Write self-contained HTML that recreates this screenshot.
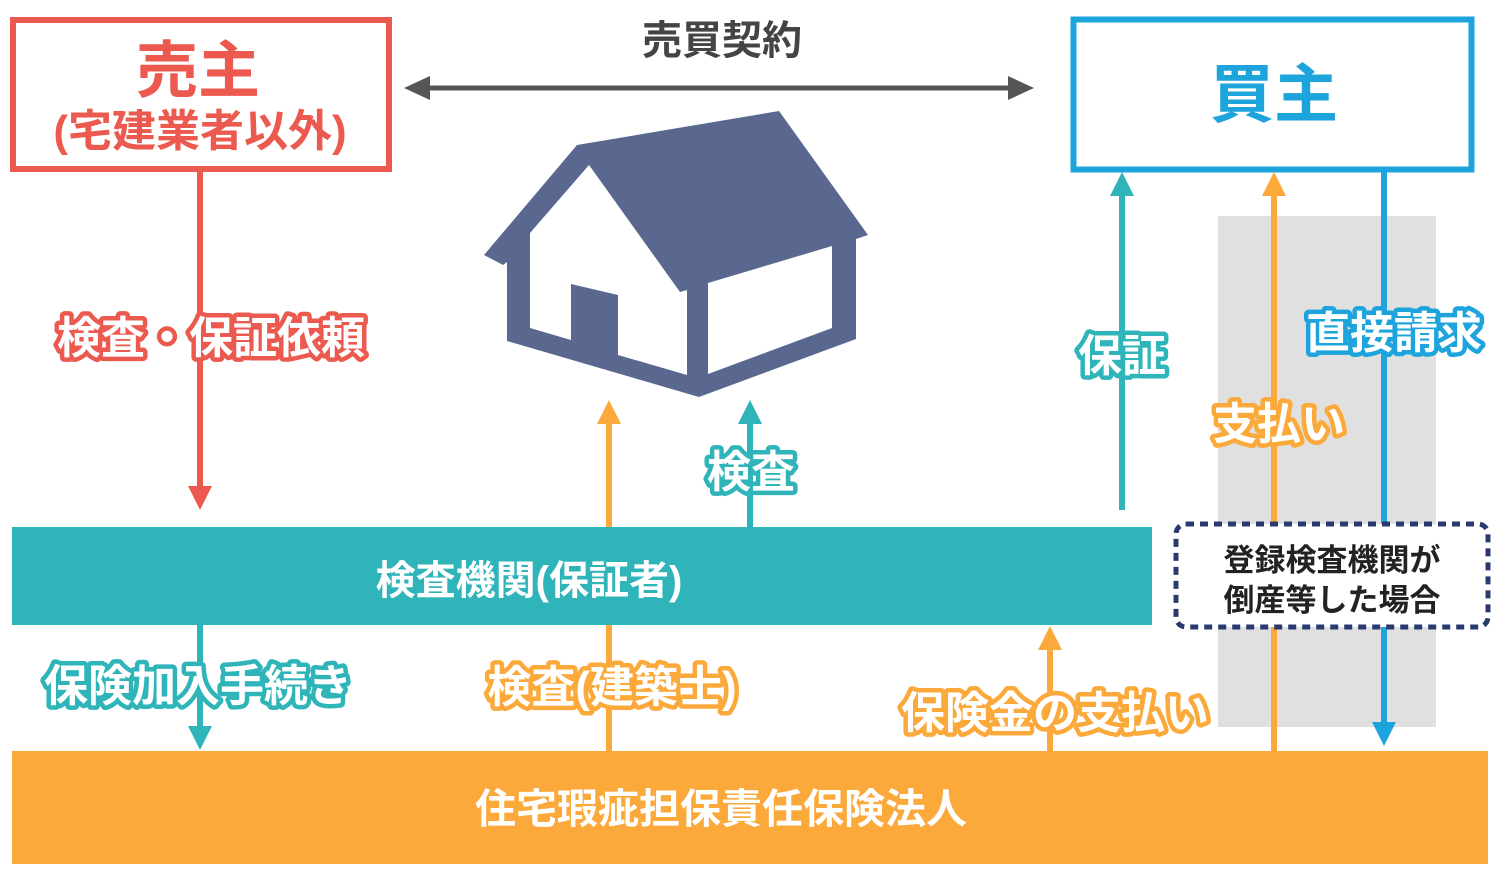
<!DOCTYPE html>
<html><head><meta charset="utf-8"><style>
html,body{margin:0;padding:0;background:#fff;}
svg{display:block;}
text{font-family:"Liberation Sans","Noto Sans CJK JP",sans-serif;font-weight:bold;}
.lb{fill:#fff;stroke-width:9;stroke-linejoin:round;paint-order:stroke;font-size:44px;}
</style></head><body>
<svg width="1500" height="878" viewBox="0 0 1500 878" xmlns="http://www.w3.org/2000/svg">
<rect x="1218" y="216" width="218" height="511" fill="#e0e0e0"/>
<rect x="13" y="20" width="376" height="149" fill="#fff" stroke="#ec5a4f" stroke-width="6"/>
<text x="198" y="92" font-size="62" fill="#ec5a4f" text-anchor="middle">売主</text>
<text x="200" y="146" font-size="44" fill="#ec5a4f" text-anchor="middle">(宅建業者以外)</text>
<rect x="1073.5" y="19.5" width="398" height="150" fill="#fff" stroke="#1ea4dd" stroke-width="6"/>
<text x="1274" y="117" font-size="64" fill="#1ea4dd" text-anchor="middle">買主</text>
<text x="722" y="54" font-size="40" fill="#444" text-anchor="middle">売買契約</text>
<line x1="420" y1="88" x2="1018" y2="88" stroke="#555" stroke-width="5"/>
<polygon points="404,88 430,76 430,100" fill="#555"/>
<polygon points="1034,88 1008,76 1008,100" fill="#555"/>
<polygon points="484,255 577,145 779,111 868,235 856,239 856,339 699,397 507,341 507,262 503,265" fill="#5a6890"/>
<polygon points="530,233 589,165 680,292 687,290 687,375 618,355 618,295 571,284 571,340 530,328" fill="#fff"/>
<polygon points="708,283 832,246 832,328 708,374" fill="#fff"/>
<rect x="12" y="527" width="1140" height="98" fill="#2fb5b9"/>
<text x="529" y="594" font-size="40" fill="#fff" text-anchor="middle">検査機関(保証者)</text>
<rect x="12" y="751" width="1476" height="113" fill="#fba93a"/>
<text x="721" y="823" font-size="41" fill="#fff" text-anchor="middle">住宅瑕疵担保責任保険法人</text>
<line x1="200" y1="171" x2="200" y2="490" stroke="#ec5a4f" stroke-width="6"/>
<polygon points="188,486 212,486 200,510" fill="#ec5a4f"/>
<line x1="200" y1="625" x2="200" y2="730" stroke="#2fb5b9" stroke-width="6"/>
<polygon points="188,726 212,726 200,750" fill="#2fb5b9"/>
<line x1="750" y1="527" x2="750" y2="420" stroke="#2fb5b9" stroke-width="6"/>
<polygon points="738,424 762,424 750,400" fill="#2fb5b9"/>
<line x1="1122" y1="510" x2="1122" y2="192" stroke="#2fb5b9" stroke-width="6"/>
<polygon points="1110,196 1134,196 1122,172" fill="#2fb5b9"/>
<line x1="609" y1="751" x2="609" y2="625" stroke="#fba93a" stroke-width="6"/>
<line x1="609" y1="527" x2="609" y2="420" stroke="#fba93a" stroke-width="6"/>
<polygon points="597,424 621,424 609,400" fill="#fba93a"/>
<line x1="1050" y1="751" x2="1050" y2="645" stroke="#fba93a" stroke-width="6"/>
<polygon points="1038,650 1062,650 1050,626" fill="#fba93a"/>
<line x1="1274" y1="751" x2="1274" y2="192" stroke="#fba93a" stroke-width="6"/>
<polygon points="1262,196 1286,196 1274,172" fill="#fba93a"/>
<line x1="1384" y1="171" x2="1384" y2="726" stroke="#1ea4dd" stroke-width="6"/>
<polygon points="1372,722 1396,722 1384,746" fill="#1ea4dd"/>
<rect x="1176" y="524" width="312" height="103" rx="10" fill="#fff" stroke="#2b3a6e" stroke-width="5" stroke-dasharray="8,6"/>
<text x="1332" y="571" font-size="31" fill="#222" text-anchor="middle">登録検査機関が</text>
<text x="1332" y="611" font-size="31" fill="#222" text-anchor="middle">倒産等した場合</text>
<text class="lb" x="211" y="353" stroke="#ec5a4f" text-anchor="middle">検査・保証依頼</text>
<text class="lb" x="751" y="487" stroke="#2fb5b9" text-anchor="middle">検査</text>
<text class="lb" x="1122" y="371" stroke="#2fb5b9" text-anchor="middle">保証</text>
<text class="lb" x="1394" y="348" stroke="#1ea4dd" text-anchor="middle">直接請求</text>
<text class="lb" x="1279" y="439" stroke="#fba93a" text-anchor="middle">支払い</text>
<text class="lb" x="198" y="701" stroke="#2fb5b9" text-anchor="middle">保険加入手続き</text>
<text class="lb" x="612" y="702" stroke="#fba93a" text-anchor="middle">検査(建築士)</text>
<text class="lb" x="1055" y="728" stroke="#fba93a" text-anchor="middle">保険金の支払い</text>
</svg>
</body></html>
